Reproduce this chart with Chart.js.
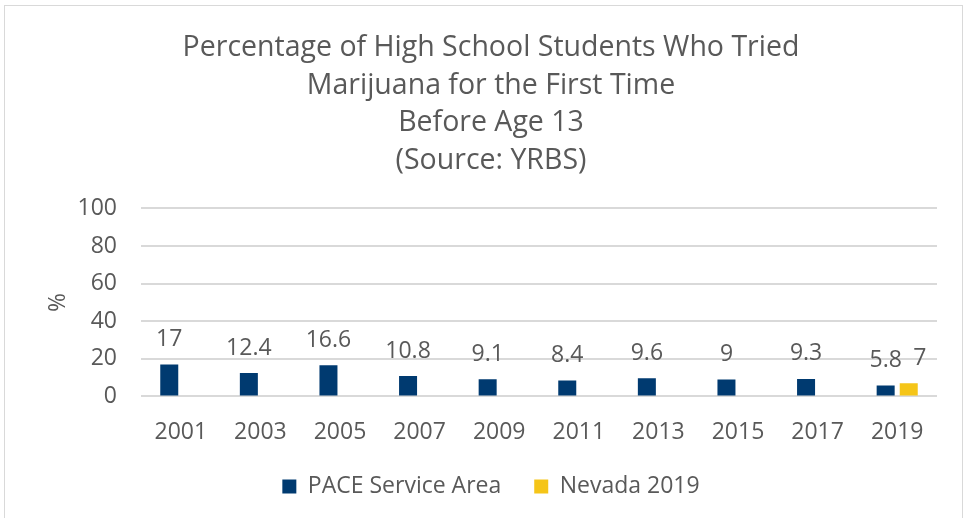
<!DOCTYPE html>
<html>
<head>
<meta charset="utf-8">
<script src="https://cdn.jsdelivr.net/npm/chart.js@4/dist/chart.umd.min.js"></script>
<style>
  html, body { margin: 0; padding: 0; background: #fff; overflow: hidden; }
  #frame {
    position: absolute; left: 4px; top: 5px;
    width: 959px; height: 522px;
    border: 1px solid #d9d9d9; box-sizing: border-box;
  }
</style>
</head>
<body>
<div id="frame"><canvas id="yrbsChart"></canvas></div>
<script>
"use strict"

// values
const years = ['2001', '2003', '2005', '2007', '2009', '2011', '2013', '2015', '2017', '2019']
const paceValues = [17, 12.4, 16.6, 10.8, 9.1, 8.4, 9.6, 9, 9.3, 5.8]
const nevadaValues = [null, null, null, null, null, null, null, null, null, 7]
const yTicks = [0, 20, 40, 60, 80, 100]

const titleLines = [
    'Percentage of High School Students Who Tried',
    'Marijuana for the First Time',
    'Before Age 13',
    '(Source: YRBS)'
]

const textColor = '#595959'
const gridColor = '#d9d9d9'
const fontFamily = "'Open Sans', 'Noto Sans', sans-serif"

// value labels above each bar
const barValueLabels = {
    id: 'barValueLabels',
    afterDatasetsDraw(chart) {
        let ctx = chart.ctx
        ctx.save()
        ctx.font = '23px ' + fontFamily
        ctx.fillStyle = textColor
        ctx.textAlign = 'center'
        ctx.textBaseline = 'middle'
        chart.data.datasets.forEach((ds, i) => {
            let meta = chart.getDatasetMeta(i)
            meta.data.forEach((bar, j) => {
                let v = ds.data[j]
                if (v === null || v === undefined) return
                let shift = ds.labelShift || 0
                ctx.fillText(String(v), bar.x + shift, bar.y - 25)
            })
        })
        ctx.restore()
    }
}

let ctx = document.getElementById('yrbsChart').getContext('2d')
let yrbsChart = new Chart(ctx, {
    type: 'bar',
    data: {
        labels: years,
        datasets: [{
            label: 'PACE Service Area',
            data: paceValues,
            backgroundColor: '#003a70',
            labelShift: 0
        }, {
            label: 'Nevada 2019',
            data: nevadaValues,
            backgroundColor: '#f5c518',
            labelShift: 11
        }]
    },
    options: {
        responsive: true,
        maintainAspectRatio: false,
        animation: false,
        layout: {
            padding: { left: 40, right: 25, top: 23, bottom: 18 }
        },
        datasets: {
            bar: { categoryPercentage: 0.58, barPercentage: 0.78 }
        },
        plugins: {
            title: {
                display: true,
                text: titleLines,
                color: textColor,
                font: { family: fontFamily, size: 28.5, weight: 'normal', lineHeight: 1.32 },
                padding: { top: 0, bottom: 29 }
            },
            legend: {
                position: 'bottom',
                labels: {
                    color: textColor,
                    font: { family: fontFamily, size: 23 },
                    boxWidth: 14,
                    boxHeight: 14,
                    padding: 33
                }
            },
            tooltip: { enabled: false }
        },
        scales: {
            x: {
                // pull the legend closer to the axis labels
                afterFit: scale => { scale.height -= 26 },
                grid: { display: false, drawTicks: false },
                border: { display: false },
                ticks: {
                    color: textColor,
                    font: { family: fontFamily, size: 23 },
                    padding: 22
                }
            },
            y: {
                min: 0,
                max: 100,
                afterBuildTicks: scale => {
                    scale.ticks = yTicks.map(v => ({ value: v }))
                },
                afterFit: scale => { scale.width = 96 },
                grid: { color: gridColor, lineWidth: 2, drawTicks: false },
                border: { display: false },
                ticks: {
                    color: textColor,
                    font: { family: fontFamily, size: 23 },
                    padding: 24
                },
                title: {
                    display: true,
                    text: '%',
                    color: textColor,
                    font: { family: fontFamily, size: 23 },
                    padding: 0
                }
            }
        }
    },
    plugins: [barValueLabels]
})
</script>
</body>
</html>
